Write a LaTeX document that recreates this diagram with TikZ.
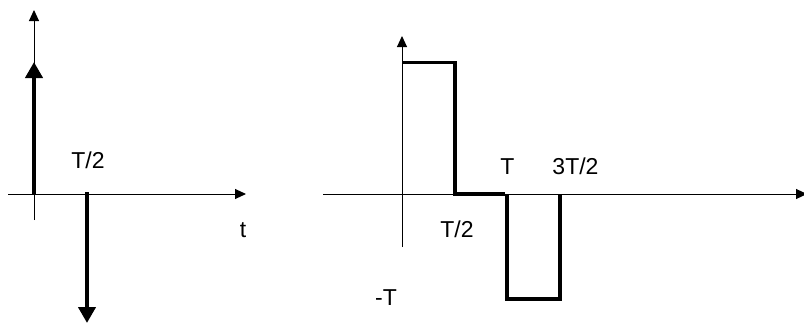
\documentclass[tikz,border=0pt]{standalone}
\usepackage{fontspec}
\setmainfont{Liberation Sans}
\usetikzlibrary{arrows.meta}
\begin{document}
\begin{tikzpicture}[x=1pt,y=-1pt,
  axis/.style={line width=1pt,-{Triangle[length=11pt,width=10pt]}},
  impulse/.style={line width=4.5pt,-{Triangle[length=16pt,width=17pt]}},
  wave/.style={line width=3.8pt,line join=miter,line cap=butt},
  lbl/.style={font=\fontsize{23pt}{23pt}\selectfont,anchor=base,inner sep=0pt}]
\useasboundingbox (0,0) rectangle (804,324);
% left panel
\coordinate (lyb) at (34,220);
\coordinate (lyt) at (34,10);
\coordinate (lxl) at (8,194);
\coordinate (lxr) at (246,194);
\draw[axis] (lyb) -- (lyt);
\draw[axis] (lxl) -- (lxr);
\coordinate (i1s) at (34,194);
\coordinate (i1e) at (34,62);
\coordinate (i2s) at (87,192);
\coordinate (i2e) at (87,323);
\draw[impulse] (i1s) -- (i1e);
\draw[impulse] (i2s) -- (i2e);
\node[lbl] (lT2) at (88,168) {T/2};
\node[lbl] (lt) at (243,237) {t};
% right panel
\coordinate (ryb) at (402,247);
\coordinate (ryt) at (402,36);
\coordinate (rxl) at (323,194);
\coordinate (rxr) at (807,194);
\draw[axis] (ryb) -- (ryt);
\draw[axis] (rxl) -- (rxr);
\coordinate (w0) at (402,62.5);
\coordinate (w1) at (455,62.5);
\coordinate (w2) at (455,194);
\coordinate (w3) at (505,194);
\coordinate (w4) at (507,194);
\coordinate (w5) at (507,299);
\coordinate (w6) at (560,299);
\coordinate (w7) at (560,194);
\draw[wave] (w0) -- (w1) -- (w2) -- (w3);
\draw[wave] (w4) -- (w5) -- (w6) -- (w7);
\node[lbl] (rT) at (507.5,174) {T};
\node[lbl] (r3T2) at (575.5,174) {3T/2};
\node[lbl] (rT2) at (457,237) {T/2};
\node[lbl] (rmT) at (386,305) {-T};
\end{tikzpicture}
\end{document}
